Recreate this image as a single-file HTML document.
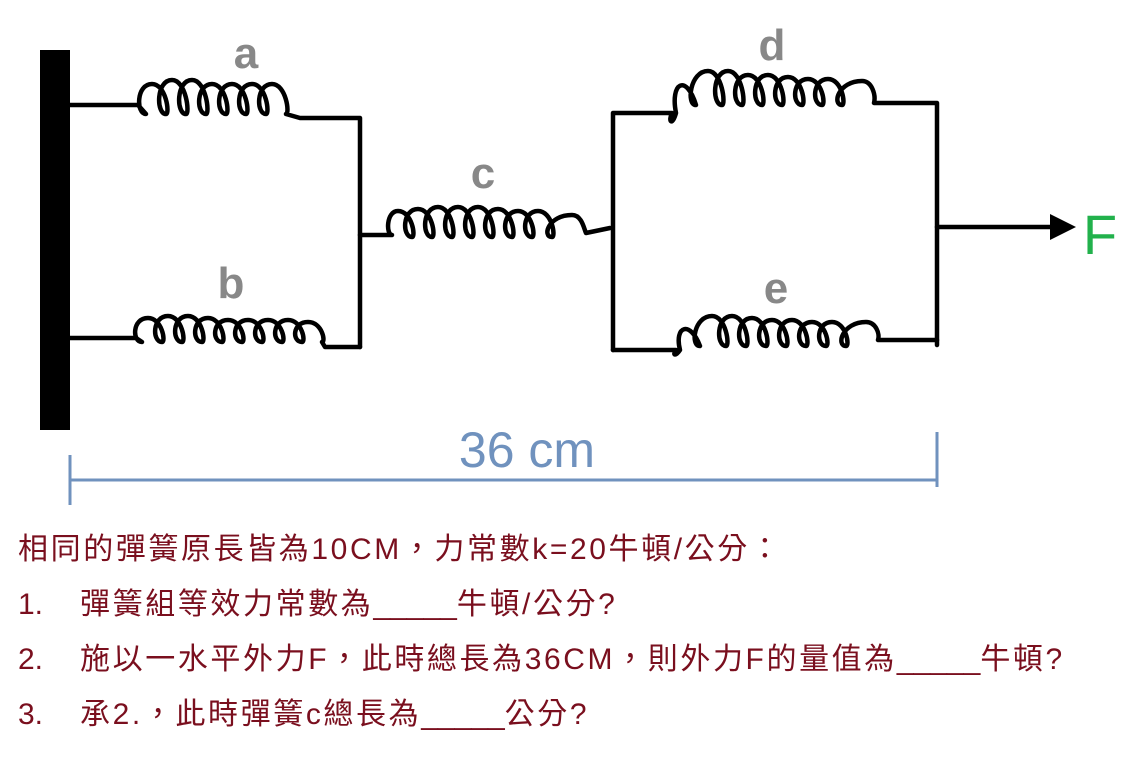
<!DOCTYPE html>
<html><head><meta charset="utf-8"><style>
body{margin:0;width:1128px;height:771px;background:#fff;overflow:hidden;position:relative}
.t{position:absolute;left:18px;font-family:"Liberation Sans","Noto Sans CJK TC",sans-serif;font-size:30px;letter-spacing:2.6px;color:#7a0f1e;white-space:pre;line-height:32px}
.t b{font-weight:normal;display:inline-block;width:62px;letter-spacing:0}
.t i{font-style:normal;letter-spacing:0}
</style></head><body>
<svg width="1128" height="771" style="position:absolute;left:0;top:0">
<rect x="40" y="50" width="30" height="380" fill="#000"/>
<g fill="none" stroke="#000" stroke-width="4.5" stroke-linecap="round" stroke-linejoin="round">
<path d="M70 105 H138 L146 114 c-10,0 -10,-30 6,-30 c14,0 18,30 14,30 c-10,0 -10,-34 6,-34 c14,0 18,34 14,34 c-10,0 -10,-34 6,-34 c14,0 18,34 14,34 c-10,0 -10,-30 6,-30 c14,0 18,30 14,30 c-10,0 -10,-30 6,-30 c14,0 18,30 14,30 c-10,0 -10,-30 6,-30 c14,0 18,30 14,30 c-10,0 -10,-30 6,-30 c14,0 18,30 14,30 L300 118 H360 V347"/>
<path d="M70 338 H136 L142 342 c-10,0 -10,-24 6,-24 c14,0 18,24 14,24 c-10,0 -10,-26 6,-26 c14,0 18,26 14,26 c-10,0 -10,-26 6,-26 c14,0 18,26 14,26 c-10,0 -10,-24 6,-24 c14,0 18,24 14,24 c-10,0 -10,-22 6,-22 c14,0 18,22 14,22 c-10,0 -10,-22 6,-22 c14,0 18,22 14,22 c-10,0 -10,-22 6,-22 c14,0 18,22 14,22 c-10,0 -10,-22 6,-22 c14,0 18,22 14,22 c-10,0 -10,-20 6,-20 c14,0 18,20 14,20 L325 347 H360"/>
<path d="M360 235 H392 c-6,0 -6,-24 6,-24 c14,0 18,26 14,26 c-10,0 -10,-28 6,-28 c14,0 18,28 14,28 c-10,0 -10,-30 6,-30 c14,0 18,30 14,30 c-10,0 -10,-30 6,-30 c14,0 18,30 14,30 c-10,0 -10,-30 6,-30 c14,0 18,30 14,30 c-10,0 -10,-28 6,-28 c14,0 18,28 14,28 c-10,0 -10,-26 6,-26 c14,0 18,26 14,26 c-10,0 -10,-26 6,-26 c14,0 18,26 14,26 c-10,0 -4,-22 20,-22 c10,0 12,14 14,18 L610 228"/>
<path d="M613 350 V113 H672 c-4,8 0,14 4,0 c-6,-30 10,-40 20,-8 c-10,0 -6,-34 12,-34 c14,0 18,34 14,34 c-10,0 -10,-34 6,-34 c14,0 18,34 14,34 c-10,0 -10,-30 6,-30 c14,0 18,30 14,30 c-10,0 -10,-30 6,-30 c14,0 18,30 14,30 c-10,0 -10,-28 6,-28 c14,0 18,28 14,28 c-10,0 -10,-26 6,-26 c14,0 18,26 14,26 c-10,0 -10,-26 6,-26 c14,0 18,26 14,26 c-10,0 -4,-24 20,-24 c10,0 14,14 12,22 H937 V345"/>
<path d="M613 350 H676 c-4,6 0,6 4,0 c-6,-24 10,-30 20,-4 c-10,0 -6,-30 12,-30 c14,0 18,30 14,30 c-10,0 -10,-30 6,-30 c14,0 18,30 14,30 c-10,0 -10,-28 6,-28 c14,0 18,28 14,28 c-10,0 -10,-26 6,-26 c14,0 18,26 14,26 c-10,0 -10,-26 6,-26 c14,0 18,26 14,26 c-10,0 -10,-24 6,-24 c14,0 18,24 14,24 c-10,0 -10,-24 6,-24 c14,0 18,24 14,24 c-10,0 -4,-24 20,-24 c10,0 14,12 12,18 H937"/>
<path d="M937 227 H1055"/>
</g>
<polygon points="1050,214 1076,227 1050,240" fill="#000"/>
<g stroke="#7092be" stroke-width="3" fill="none">
<path d="M70 455 V505 M70 480 H937 M937 432 V487"/>
</g>
<g font-family="Liberation Sans,sans-serif" font-weight="bold" font-size="44" fill="#888" text-anchor="middle">
<text x="246" y="68">a</text>
<text x="231" y="298">b</text>
<text x="483" y="188">c</text>
<text x="772" y="60">d</text>
<text x="776" y="303">e</text>
</g>
<text x="527" y="467" font-family="Liberation Sans,sans-serif" font-size="50" fill="#7092be" text-anchor="middle">36 cm</text>
<text x="1100" y="254" font-family="Liberation Sans,sans-serif" font-size="56" fill="#22b14c" text-anchor="middle">F</text>
</svg>
<div class="t" style="top:534px">相同的彈簧原長皆為10CM，力常數k=20牛頓/公分：</div>
<div class="t" style="top:589px"><b>1.</b>彈簧組等效力常數為<i>_____</i>牛頓/公分?</div>
<div class="t" style="top:644px"><b>2.</b>施以一水平外力F，此時總長為36CM，則外力F的量值為<i>_____</i>牛頓?</div>
<div class="t" style="top:699px"><b>3.</b>承2.，此時彈簧c總長為<i>_____</i>公分?</div>
</body></html>
